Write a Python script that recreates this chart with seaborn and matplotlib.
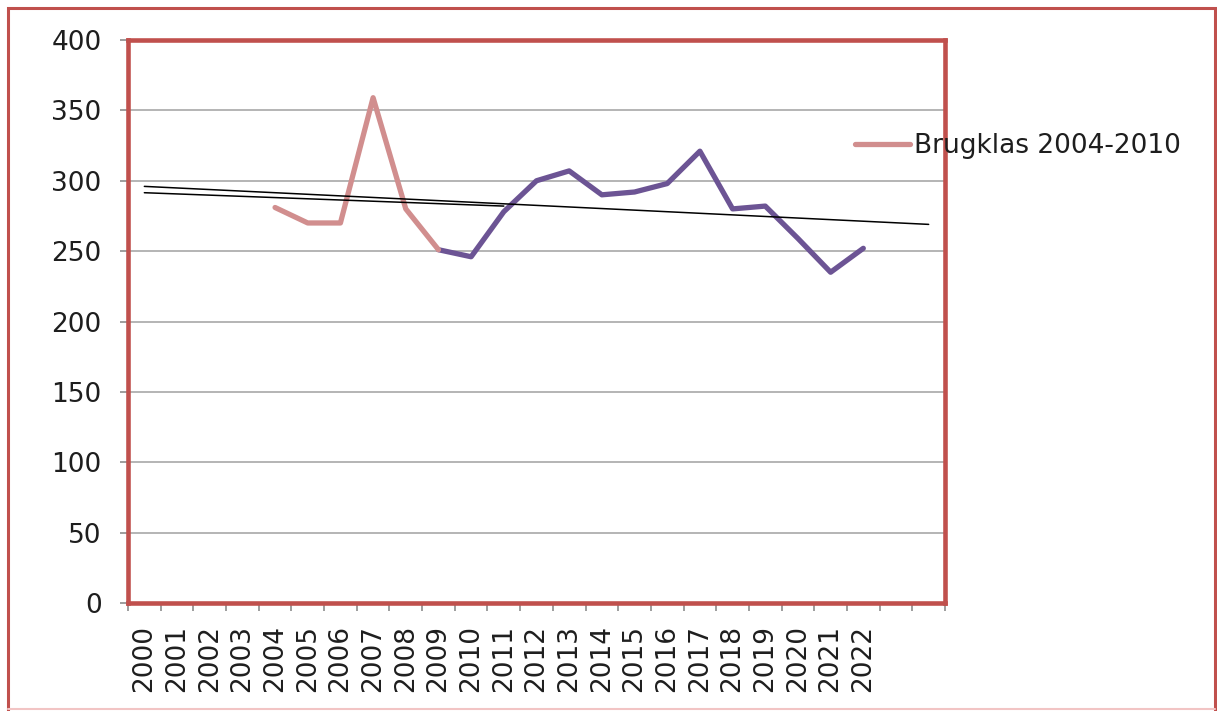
import matplotlib
matplotlib.use("Agg")
import matplotlib.pyplot as plt
from matplotlib.patches import Rectangle
from matplotlib.lines import Line2D
import seaborn as sns
import pandas as pd
import numpy as np

# ---- data ----
categories = [str(y) for y in range(2000, 2023)] + ["", ""]   # 25 category slots
pink_years = [2004, 2005, 2006, 2007, 2008, 2009]
pink_values = [281, 270, 270, 359, 280, 251]
purple_years = [2009, 2010, 2011, 2012, 2013, 2014, 2015, 2016, 2017, 2018, 2019, 2020, 2021, 2022]
purple_values = [251, 246, 278, 300, 307, 290, 292, 298, 321, 280, 282, 259, 235, 252]
trend_long_years = [2000, 2024]
trend_long_values = [296, 269]
trend_short_years = [2000, 2011]
trend_short_values = [291.5, 282]
legend_label = "Brugklas 2004-2010"

PINK = "#D18E8E"
PURPLE = "#6C5494"
RED = "#C0504D"
TXT = "#1e1e1e"
FS = 19

sns.set_style("white")
plt.rcParams["font.family"] = ["DejaVu Sans"]

W, H = 1217, 711
fig = plt.figure(figsize=(W / 100, H / 100), dpi=100)
ax = fig.add_axes([128 / W, 1 - 603 / H, (945 - 128) / W, (603 - 40) / H])

def idx(years):
    return [y - 2000 for y in years]

df_pink = pd.DataFrame({"x": idx(pink_years), "v": pink_values})
df_purple = pd.DataFrame({"x": idx(purple_years), "v": purple_values})
df_tl = pd.DataFrame({"x": idx(trend_long_years), "v": trend_long_values})
df_ts = pd.DataFrame({"x": idx(trend_short_years), "v": trend_short_values})

lw = 3.8
sns.lineplot(data=df_purple, x="x", y="v", ax=ax, color=PURPLE, lw=lw,
             solid_capstyle="round", solid_joinstyle="round", legend=False, zorder=3)
sns.lineplot(data=df_pink, x="x", y="v", ax=ax, color=PINK, lw=lw,
             solid_capstyle="round", solid_joinstyle="round", legend=False, zorder=3)
sns.lineplot(data=df_tl, x="x", y="v", ax=ax, color="black", lw=1.1, legend=False, zorder=4)
sns.lineplot(data=df_ts, x="x", y="v", ax=ax, color="black", lw=1.1, legend=False, zorder=4)

ax.set_xlim(-0.5, len(categories) - 0.5)
ax.set_ylim(0, 400)
ax.set_xlabel("")
ax.set_ylabel("")

ax.set_yticks(np.arange(0, 401, 50))
ax.yaxis.grid(True, color="#A0A0A0", lw=1.1)
ax.xaxis.grid(False)
ax.set_axisbelow(True)

ax.set_xticks(np.arange(len(categories)))
ax.set_xticklabels(categories, rotation=90, fontsize=FS, color=TXT)
ax.set_xticks(np.arange(len(categories) + 1) - 0.5, minor=True)
ax.tick_params(axis="x", which="major", length=0, pad=16)
ax.tick_params(axis="x", which="minor", length=6, width=1.2, color="#8C8C8C", direction="out")
ax.tick_params(axis="y", which="major", length=6, width=1.2, color="#8C8C8C",
               direction="out", labelsize=FS, labelcolor=TXT, pad=13)
ax.tick_params(bottom=True, left=True, which="both")

for s in ax.spines.values():
    s.set_color(RED)
    s.set_linewidth(3.3)
    s.set_visible(True)

# legend (only the first series)
handle = Line2D([0], [0], color=PINK, lw=lw, solid_capstyle="round")
fig.legend([handle], [legend_label], loc="center left",
           bbox_to_anchor=(855 / W, 1 - 146 / H), frameon=False,
           fontsize=FS, handlelength=2.1, handletextpad=0.15, borderpad=0,
           borderaxespad=0, labelcolor=TXT)

# outer chart frame
fig.patches.append(Rectangle((8 / W, -10 / H), (1215 - 8) / W, (711 - 8 + 10) / H,
                             transform=fig.transFigure, fill=False,
                             edgecolor=RED, lw=2.2, zorder=0))
fig.lines.append(Line2D([8 / W, 1215 / W], [1 - 709 / H, 1 - 709 / H],
                        transform=fig.transFigure, color="#F2C4C4", lw=1.5))

fig.savefig("out.png", dpi=100, facecolor="white")
